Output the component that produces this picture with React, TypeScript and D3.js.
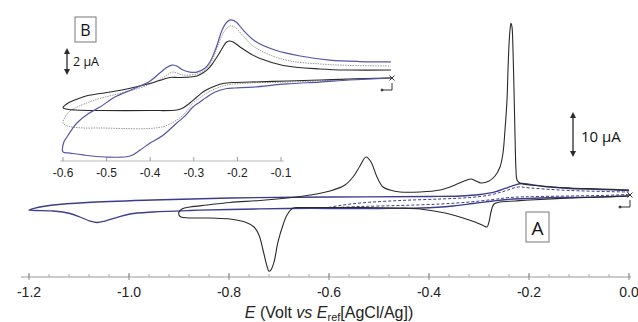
import { useEffect } from 'react'
import * as d3 from 'd3'

// ---- main CV (A): potential in V, current in µA ----
const blackMainE = [0, -0.058, -0.138, -0.198, -0.228, -0.258, -0.27, -0.276, -0.28, -0.284, -0.29, -0.308, -0.332, -0.368, -0.418, -0.458, -0.538, -0.598, -0.658, -0.672, -0.684, -0.692, -0.702, -0.71, -0.716, -0.72, -0.724, -0.732, -0.74, -0.75, -0.768, -0.798, -0.838, -0.896, -0.9,
  -0.9, -0.894, -0.878, -0.844, -0.798, -0.738, -0.684, -0.638, -0.598, -0.568, -0.552, -0.538, -0.526, -0.516, -0.504, -0.492, -0.478, -0.458, -0.418, -0.378, -0.348, -0.324, -0.316, -0.306, -0.296, -0.28, -0.268, -0.258, -0.252, -0.248, -0.244, -0.242, -0.24, -0.238, -0.236, -0.234, -0.232, -0.23, -0.228, -0.226, -0.224, -0.218, -0.178, -0.118, -0.058, 0]
const blackMainI = [0, -0.22, -0.56, -0.89, -1.11, -1.33, -1.78, -3.56, -5.78, -6.89, -6.67, -5.78, -4.89, -3.78, -2.89, -2.67, -2.56, -2.56, -2.56, -2.67, -4.22, -6.44, -10.2, -14.7, -16.4, -16.7, -15.6, -12.0, -8.67, -6.89, -5.78, -5.11, -4.89, -4.67, -4.22,
  -3.56, -2.89, -2.44, -2.0, -1.44, -1.0, -0.44, 0.22, 1.11, 2.44, 4.22, 6.67, 8.67, 7.56, 4.22, 2.0, 1.33, 0.89, 0.89, 1.33, 2.44, 3.56, 3.78, 3.33, 2.89, 3.33, 4.44, 6.44, 9.56, 14.7, 21.3, 28.0, 33.6, 36.9, 38.4, 37.6, 32.4, 23.6, 13.6, 5.78, 3.56, 2.89, 2.22, 1.78, 1.56, 1.33]

const blueMainE = [0, -0.058, -0.138, -0.178, -0.244, -0.272, -0.312, -0.352, -0.418, -0.498, -0.598, -0.684, -0.798, -0.878, -0.952, -0.998, -1.022, -1.048, -1.064, -1.078, -1.098, -1.118, -1.152, -1.188, -1.2,
  -1.188, -1.152, -1.084, -0.952, -0.798, -0.598, -0.398, -0.338, -0.298, -0.268, -0.248, -0.228, -0.214, -0.198, -0.168, -0.118, -0.058, 0]
const blueMainI = [0, -0.22, -0.33, -0.44, -0.78, -1.11, -1.67, -2.22, -2.67, -2.78, -2.78, -2.78, -3.0, -3.22, -3.56, -4.0, -4.67, -5.56, -5.89, -5.56, -4.67, -3.89, -3.33, -3.22, -3.11,
  -2.67, -2.0, -1.44, -0.89, -0.44, -0.22, -0.11, 0, 0.33, 0.89, 1.67, 2.44, 2.78, 2.56, 2.11, 1.67, 1.44, 1.22]

const dashMainE = [0, -0.058, -0.178, -0.238, -0.272, -0.318, -0.378, -0.458, -0.538, -0.6,
  -0.578, -0.538, -0.458, -0.378, -0.318, -0.278, -0.248, -0.222, -0.198, -0.118, 0]
const dashMainI = [0.33, 0.11, -0.11, -0.33, -0.78, -1.33, -1.78, -2.11, -2.33, -2.56,
  -2.11, -1.56, -1.0, -0.67, -0.33, 0.22, 1.11, 2.0, 1.78, 1.22, 0.89]

// ---- inset CV (B) ----
const blackInsetE = [0.152, 0.058, -0.011, -0.086, -0.171, -0.206, -0.233, -0.251, -0.267, -0.279, -0.293, -0.309, -0.325, -0.339, -0.4, -0.515, -0.572, -0.593, -0.6,
  -0.593, -0.584, -0.561, -0.543, -0.515, -0.465, -0.419, -0.389, -0.371, -0.355, -0.336, -0.309, -0.293, -0.279, -0.267, -0.256, -0.244, -0.233, -0.226, -0.219, -0.21, -0.194, -0.171, -0.148, -0.095, -0.011, 0.058, 0.152]
const blackInsetI = [0, -0.07, -0.15, -0.22, -0.3, -0.33, -0.41, -0.59, -0.81, -1.04, -1.41, -1.85, -2.22, -2.37, -2.41, -2.41, -2.37, -2.3, -2.19,
  -1.96, -1.78, -1.48, -1.3, -1.15, -0.89, -0.56, -0.3, -0.11, 0.04, 0.04, 0.07, 0.15, 0.37, 0.67, 1.11, 1.7, 2.3, 2.63, 2.74, 2.67, 2.3, 1.81, 1.44, 0.93, 0.67, 0.59, 0.59]

const greyInsetE = [0.152, 0.058, -0.011, -0.086, -0.171, -0.224, -0.251, -0.27, -0.286, -0.302, -0.32, -0.339, -0.366, -0.4, -0.465, -0.515, -0.554, -0.589, -0.6,
  -0.595, -0.584, -0.572, -0.527, -0.465, -0.439, -0.405, -0.378, -0.361, -0.35, -0.339, -0.325, -0.293, -0.274, -0.258, -0.244, -0.231, -0.217, -0.206, -0.189, -0.164, -0.125, -0.079, -0.011, 0.058, 0.152]
const greyInsetI = [0, -0.07, -0.22, -0.3, -0.37, -0.52, -0.81, -1.11, -1.48, -1.85, -2.59, -3.11, -3.56, -3.74, -3.74, -3.7, -3.7, -3.56, -3.33,
  -2.89, -2.44, -2.22, -1.63, -1.11, -0.89, -0.52, -0.11, 0.22, 0.44, 0.37, 0.22, 0.3, 0.59, 1.33, 2.44, 3.41, 3.85, 3.78, 3.19, 2.37, 1.7, 1.26, 1.04, 0.93, 0.89]

const blueInsetE = [0.152, 0.058, -0.011, -0.086, -0.164, -0.206, -0.224, -0.251, -0.27, -0.286, -0.302, -0.32, -0.339, -0.373, -0.4, -0.423, -0.446, -0.504, -0.554, -0.584, -0.6,
  -0.598, -0.591, -0.579, -0.568, -0.543, -0.515, -0.481, -0.439, -0.4, -0.378, -0.364, -0.35, -0.339, -0.325, -0.309, -0.293, -0.274, -0.263, -0.249, -0.235, -0.224, -0.215, -0.203, -0.187, -0.16, -0.114, -0.056, 0.012, 0.081, 0.152]
const blueInsetI = [0, -0.15, -0.3, -0.44, -0.67, -0.74, -0.78, -1.04, -1.41, -1.78, -2.15, -2.81, -3.33, -4.3, -4.81, -5.33, -5.78, -5.85, -5.7, -5.56, -5.48,
  -4.74, -4.37, -3.78, -3.33, -2.67, -2.15, -1.41, -0.81, -0.22, 0.37, 0.74, 0.96, 0.89, 0.59, 0.44, 0.44, 0.74, 1.19, 2.22, 3.56, 4.15, 4.3, 4.15, 3.56, 2.74, 2.07, 1.63, 1.33, 1.22, 1.19]

const mainTicks = [-1.2, -1.0, -0.8, -0.6, -0.4, -0.2, 0.0]
const mainTickLabels = ['-1.2', '-1.0', '-0.8', '-0.6', '-0.4', '-0.2', '0.0']
const insetTicks = [-0.6, -0.5, -0.4, -0.3, -0.2, -0.1]
const insetTickLabels = ['-0.6', '-0.5', '-0.4', '-0.3', '-0.2', '-0.1']

const W = 638
const H = 322
const BLUE = '#3d3d8e'
const BLUE_IN = '#5656a6'
const BLACK = '#2a2a2a'

function zip(es: number[], is: number[]) {
  return es.map((e, i) => [e, is[i]] as [number, number])
}

function Arrow({ x, y1, y2 }: { x: number; y1: number; y2: number }) {
  return (
    <g stroke={BLACK} fill={BLACK}>
      <line x1={x} x2={x} y1={y1 + 3} y2={y2 - 3} strokeWidth={1.3} />
      <path d={`M${x},${y1} L${x - 3},${y1 + 6} L${x + 3},${y1 + 6} Z`} stroke="none" />
      <path d={`M${x},${y2} L${x - 3},${y2 - 6} L${x + 3},${y2 - 6} Z`} stroke="none" />
    </g>
  )
}

function StartMark({ x, y }: { x: number; y: number }) {
  return (
    <g stroke="#333" strokeWidth={1} fill="none">
      <path d={`M${x - 2.5},${y - 2.5} L${x + 2.5},${y + 2.5} M${x - 2.5},${y + 2.5} L${x + 2.5},${y - 2.5}`} />
      <path d={`M${x},${y + 5} L${x},${y + 12} L${x - 10},${y + 12}`} />
      <circle cx={x - 10} cy={y + 12} r={1} fill="#333" />
    </g>
  )
}

export default function App() {
  useEffect(() => {
    document.body.style.margin = '0'
  }, [])

  const x = d3.scaleLinear().domain([-1.2, 0]).range([29, 629])
  const y = d3.scaleLinear().domain([0, 10]).range([196, 151])
  const xi = d3.scaleLinear().domain([-0.6, -0.1]).range([63, 281])
  const yi = d3.scaleLinear().domain([0, 2]).range([78, 51])

  const line = d3.line<[number, number]>()
    .x(d => x(d[0])).y(d => y(d[1]))
    .curve(d3.curveCatmullRom.alpha(0.5))
  const lineIn = d3.line<[number, number]>()
    .x(d => xi(d[0])).y(d => yi(d[1]))
    .curve(d3.curveCatmullRom.alpha(0.5))

  const minor = d3.range(-1.2, 0.001, 0.04)
  const axisY = 277
  const insetAxisY = 161

  return (
    <svg width={W} height={H} style={{ display: 'block', background: '#fff' }}>
      {/* main axis */}
      <line x1={21} x2={631} y1={axisY} y2={axisY} stroke="#999" strokeWidth={1} />
      {minor.map((t, i) => (
        <line key={'m' + i} x1={x(t)} x2={x(t)} y1={axisY - 3} y2={axisY} stroke="#aaa" />
      ))}
      {mainTicks.map((t, i) => (
        <g key={'t' + i}>
          <line x1={x(t)} x2={x(t)} y1={axisY - 4} y2={axisY + 3} stroke="#888" />
          <text x={x(t)} y={297} textAnchor="middle" fontFamily="'Liberation Sans', Arial, sans-serif" fontSize={14} fill="#222">
            {mainTickLabels[i]}
          </text>
        </g>
      ))}
      <text x={329} y={318} textAnchor="middle" fontFamily="'Liberation Sans', Arial, sans-serif" fontSize={16} fill="#222">
        <tspan fontStyle="italic">E</tspan> (Volt <tspan fontStyle="italic">vs</tspan> <tspan fontStyle="italic">E</tspan>
        <tspan fontSize={11} dy={3}>ref</tspan><tspan dy={-3}>[AgCl/Ag])</tspan>
      </text>

      {/* main curves */}
      <path d={line(zip(dashMainE, dashMainI)) ?? ''} fill="none" stroke={BLUE} strokeWidth={1} strokeDasharray="3,2" />
      <path d={line(zip(blueMainE, blueMainI)) ?? ''} fill="none" stroke={BLUE} strokeWidth={1.3} />
      <path d={line(zip(blackMainE, blackMainI)) ?? ''} fill="none" stroke={BLACK} strokeWidth={1.1} />
      <StartMark x={630} y={195} />

      <Arrow x={573} y1={112} y2={157} />
      <text x={581} y={142} fontFamily="'Open Sans', sans-serif" fontSize={15} fill="#111">10 µA</text>

      <rect x={526} y={212} width={23} height={30} fill="#fff" stroke="#777" />
      <text x={537.5} y={234.5} textAnchor="middle" fontFamily="'Open Sans', sans-serif" fontSize={19} fill="#111">A</text>

      {/* inset */}
      <line x1={60} x2={284} y1={insetAxisY} y2={insetAxisY} stroke="#bbb" strokeWidth={1} />
      {insetTicks.map((t, i) => (
        <g key={'it' + i}>
          <line x1={xi(t)} x2={xi(t)} y1={insetAxisY - 4} y2={insetAxisY} stroke="#999" />
          <text x={xi(t)} y={177} textAnchor="middle" fontFamily="'Liberation Sans', Arial, sans-serif" fontSize={12} fill="#222">
            {insetTickLabels[i]}
          </text>
        </g>
      ))}
      <path d={lineIn(zip(greyInsetE, greyInsetI)) ?? ''} fill="none" stroke="#9a9a9a" strokeWidth={1} strokeDasharray="1.5,1" />
      <path d={lineIn(zip(blackInsetE, blackInsetI)) ?? ''} fill="none" stroke={BLACK} strokeWidth={1.1} />
      <path d={lineIn(zip(blueInsetE, blueInsetI)) ?? ''} fill="none" stroke={BLUE_IN} strokeWidth={1.2} />
      <StartMark x={392} y={78} />

      <Arrow x={67} y1={48} y2={75} />
      <text x={73} y={66} fontFamily="'Open Sans', sans-serif" fontSize={12.5} fill="#111">2 µA</text>

      <rect x={75} y={17} width={21} height={25} fill="#fff" stroke="#777" />
      <text x={85.5} y={35.5} textAnchor="middle" fontFamily="'Open Sans', sans-serif" fontSize={16} fill="#111">B</text>
    </svg>
  )
}
